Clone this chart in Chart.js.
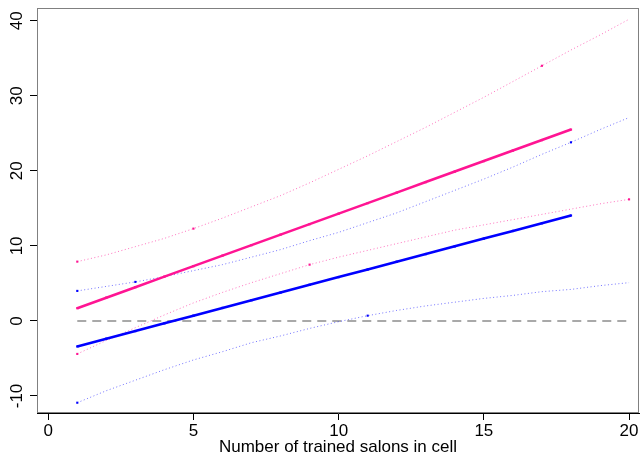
<!DOCTYPE html>
<html>
<head>
<meta charset="utf-8">
<script src="https://cdn.jsdelivr.net/npm/chart.js@4.4.1/dist/chart.umd.min.js"></script>
<style>
  html, body { margin: 0; padding: 0; background: #fff; }
</style>
</head>
<body>
<canvas id="myChart" width="643" height="456"></canvas>
<script>
// values
var salons = [1, 2, 3, 4, 5, 6, 7, 8, 9, 10, 11, 12, 13, 14, 15, 16, 17, 18, 19, 20];
var pinkFit = [1.7, 3.1, 4.5, 5.9, 7.3, 8.7, 10.1, 11.5, 12.9, 14.3, 15.7, 17.1, 18.5, 19.9, 21.3, 22.7, 24.1, 25.5];
var blueFit = [-3.40, -2.37, -1.35, -0.32, 0.70, 1.73, 2.76, 3.78, 4.81, 5.84, 6.86, 7.89, 8.91, 9.94, 10.97, 11.99, 13.02, 14.05];
var pinkUpper = [7.9, 8.8, 9.9, 11.0, 12.3, 13.7, 15.2, 16.7, 18.4, 20.2, 22.0, 23.9, 25.8, 27.8, 29.8, 31.9, 34.0, 36.1, 38.1, 40.2];
var pinkLower = [-4.4, -2.6, -0.9, 0.8, 2.4, 3.8, 5.1, 6.3, 7.5, 8.5, 9.4, 10.3, 11.2, 12.1, 12.8, 13.5, 14.2, 14.9, 15.6, 16.2];
var blueUpper = [4.0, 4.6, 5.2, 5.9, 6.7, 7.5, 8.5, 9.5, 10.7, 11.8, 13.1, 14.4, 15.9, 17.4, 18.9, 20.5, 22.2, 23.8, 25.5, 27.1];
var blueLower = [-10.9, -9.3, -7.9, -6.5, -5.2, -4.1, -2.9, -2.0, -1.0, -0.1, 0.7, 1.4, 2.0, 2.5, 3.0, 3.4, 3.9, 4.2, 4.7, 5.1];
var zeroX = [1, 20];
var zeroY = [0, 0];

// points that show a marker on the dotted bands
var pinkUpperMarks = [1, 5, 17];
var pinkLowerMarks = [1, 9, 20];
var blueUpperMarks = [1, 3, 18];
var blueLowerMarks = [1, 11];

var xTicks = [0, 5, 10, 15, 20];
var yTicks = [-10, 0, 10, 20, 30, 40];
var xTitle = "Number of trained salons in cell";

var PINK = "#ff1493";
var BLUE = "#0000ff";
var PINK_LIGHT = "rgba(255, 20, 147, 0.6)";
var BLUE_LIGHT = "rgba(0, 0, 255, 0.55)";
var font = { family: "'Liberation Sans', Arial, sans-serif", size: 17, lineHeight: 1 };

function pts(xs, ys) {
  return ys.map(function (y, i) { return { x: xs[i], y: y }; });
}

function solid(ys, color) {
  return {
    data: pts(salons, ys),
    borderColor: color,
    backgroundColor: color,
    borderWidth: 2.6,
    pointStyle: "rect",
    pointRadius: 1.6,
    pointBorderWidth: 0,
    tension: 0,
  };
}

function dotted(ys, color, dot, marks) {
  return {
    data: pts(salons, ys),
    borderColor: color,
    backgroundColor: dot,
    borderWidth: 1,
    borderDash: [1, 2.5],
    pointStyle: "rect",
    pointBorderWidth: 0,
    pointRadius: function (c) {
      return marks.indexOf(salons[c.dataIndex]) >= 0 ? 1.5 : 0;
    },
    tension: 0,
  };
}

// grey box round the plot region (left/bottom are drawn by the axes)
var boxPlugin = {
  id: "box",
  beforeDatasetsDraw: function (chart) {
    var a = chart.chartArea;
    var ctx = chart.ctx;
    ctx.save();
    ctx.strokeStyle = "#808080";
    ctx.lineWidth = 1;
    ctx.strokeRect(Math.round(a.left) + 0.5, Math.round(a.top) + 0.5,
      Math.round(a.right - a.left) - 1, Math.round(a.bottom - a.top) - 1);
    ctx.restore();
  },
};

createChart();

function createChart() {
  var ctx = document.getElementById("myChart");
  new Chart(ctx, {
    type: "line",
    data: {
      datasets: [
        solid(pinkFit, PINK),
        solid(blueFit, BLUE),
        dotted(pinkUpper, PINK_LIGHT, PINK, pinkUpperMarks),
        dotted(pinkLower, PINK_LIGHT, PINK, pinkLowerMarks),
        dotted(blueUpper, BLUE_LIGHT, BLUE, blueUpperMarks),
        dotted(blueLower, BLUE_LIGHT, BLUE, blueLowerMarks),
        {
          data: pts(zeroX, zeroY),
          borderColor: "#a9a9a9",
          borderWidth: 2,
          borderDash: [9, 6],
          pointRadius: 0,
        },
      ],
    },
    options: {
      responsive: false,
      animation: false,
      devicePixelRatio: 1,
      layout: { padding: { top: 8, right: 1, left: 0, bottom: 0 } },
      plugins: { legend: { display: false }, tooltip: { enabled: false } },
      scales: {
        x: {
          type: "linear",
          min: -0.387,
          max: 20.343,
          afterBuildTicks: function (s) { s.ticks = xTicks.map(function (v) { return { value: v }; }); },
          afterFit: function (s) { s.height = 43; s.paddingLeft = 0; s.paddingRight = 0; },
          grid: { drawOnChartArea: false, drawTicks: true, tickLength: 7, color: "#000" },
          border: { display: true, color: "#000", width: 1 },
          ticks: { color: "#000", font: font, padding: 3, maxRotation: 0, autoSkip: false },
          title: { display: true, text: xTitle, color: "#000", font: font, padding: { top: 0, bottom: 0 } },
        },
        y: {
          type: "linear",
          min: -12.27,
          max: 41.7,
          afterBuildTicks: function (s) { s.ticks = yTicks.map(function (v) { return { value: v }; }); },
          afterFit: function (s) { s.width = 37; s.paddingTop = 0; s.paddingBottom = 0; },
          grid: { drawOnChartArea: false, drawTicks: true, tickLength: 7, color: "#000" },
          border: { display: true, color: "#000", width: 1 },
          ticks: { color: "#000", font: font, padding: 0, minRotation: 90, maxRotation: 90, crossAlign: "center", autoSkip: false },
        },
      },
    },
    plugins: [boxPlugin],
  });
}
</script>
</body>
</html>
